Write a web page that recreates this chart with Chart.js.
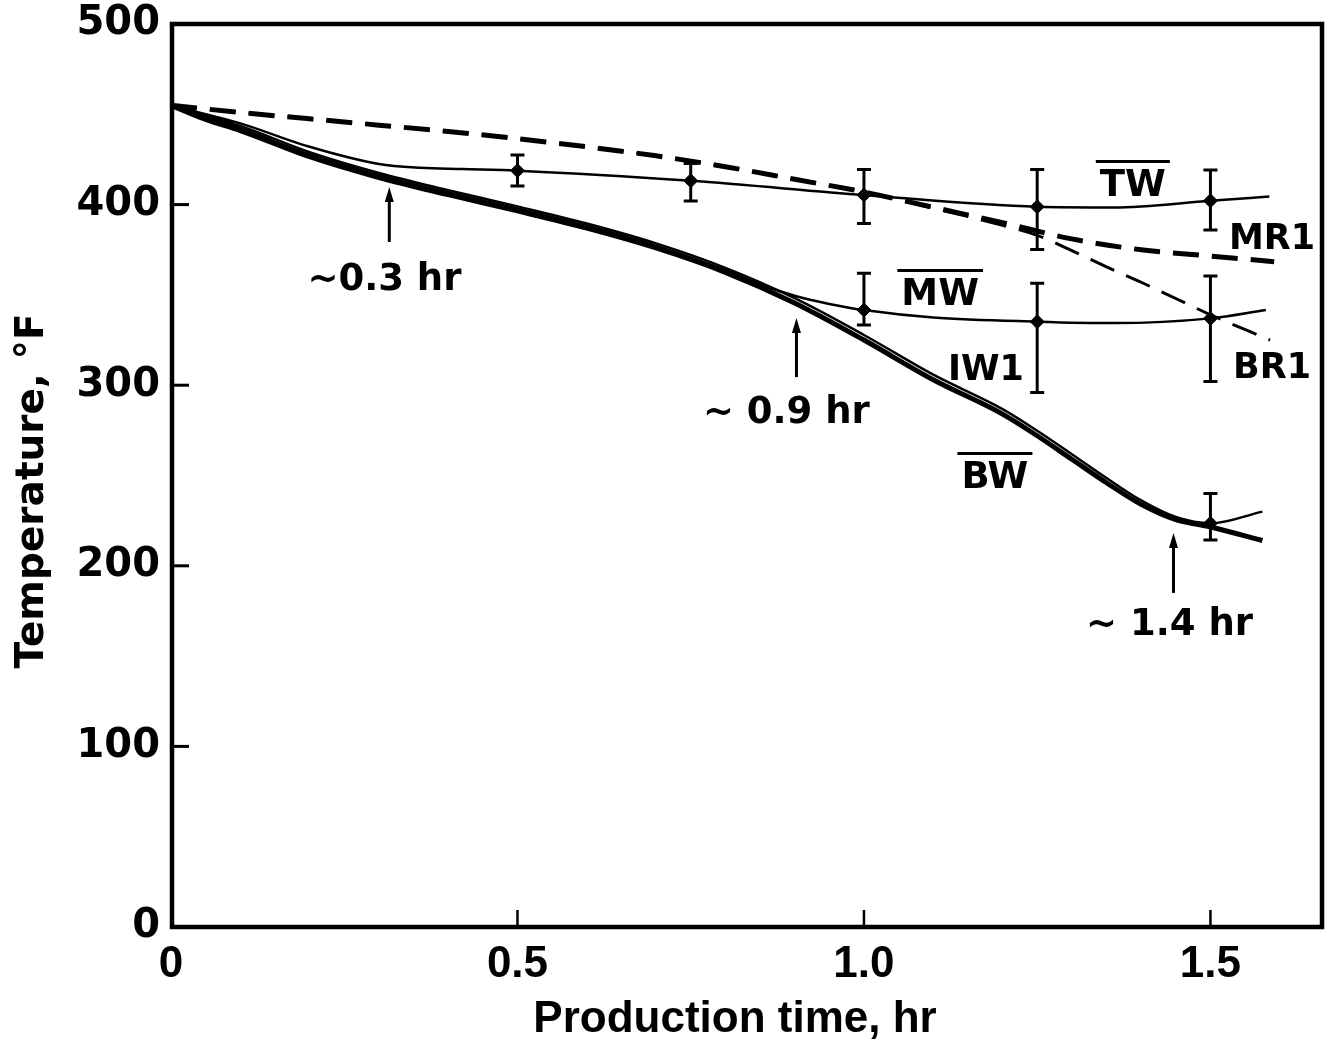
<!DOCTYPE html>
<html>
<head>
<meta charset="utf-8">
<script src="https://cdn.jsdelivr.net/npm/chart.js@4.4.1/dist/chart.umd.min.js"></script>
<style>
  html, body { margin: 0; padding: 0; background: #fff; }
  #wrap { width: 1330px; height: 1041px; }
</style>
</head>
<body>
<div id="wrap"><canvas id="c" width="1330" height="1041"></canvas></div>
<script>
// Wellhead temperature during production: time (hr) vs temperature (°F)

// Measured averages (solid lines)
const timeTW = [0, 0.05, 0.1, 0.2, 0.3, 0.36, 0.42, 0.5, 0.75, 1.0, 1.25, 1.36, 1.5, 1.585];
const tempTW = [455, 450, 445, 432, 422.5, 420.4, 419.7, 418.8, 413.2, 405.3, 398.8, 398.4, 402.1, 404.5];

const timeMW = [0, 0.05, 0.1, 0.2, 0.3, 0.4, 0.5, 0.6, 0.7, 0.8, 0.86, 0.9, 0.95, 1.0, 1.1, 1.25, 1.36, 1.5, 1.58];
const tempMW = [455, 448.5, 442.3, 427.8, 416.3, 406.8, 397.8, 388.3, 377.3, 363.8, 354.5, 349.5, 345, 341.6, 337.5, 335.2, 334.4, 337, 341.6];

const timeBW = [0, 0.05, 0.1, 0.2, 0.3, 0.4, 0.5, 0.6, 0.7, 0.8, 0.9, 1.0, 1.1, 1.2, 1.25, 1.3, 1.35, 1.4, 1.45, 1.5, 1.575];
const tempBW = [455, 447.2, 441, 426.5, 415, 405.5, 396.5, 387, 376, 362.5, 345.5, 325, 303, 284, 272, 259, 246, 234, 225.5, 221.5, 214];

// Simulated single-well curves
const timeIW1 = [0, 0.05, 0.1, 0.2, 0.3, 0.4, 0.5, 0.6, 0.7, 0.8, 0.9, 1.0, 1.1, 1.2, 1.25, 1.3, 1.35, 1.4, 1.45, 1.5, 1.575];
const tempIW1 = [455, 449.2, 443.5, 429, 417.5, 408, 399, 389.5, 378.5, 365, 348.2, 327.8, 305.8, 286.8, 274.8, 261.8, 248.6, 236.2, 227, 223.5, 230];

const timeMR1 = [0, 0.1, 0.2, 0.3, 0.4, 0.5, 0.6, 0.7, 0.8, 0.9, 1.0, 1.1, 1.2, 1.3, 1.4, 1.5, 1.592];
const tempMR1 = [455, 451, 447.5, 444, 440.5, 436.5, 432, 427, 421, 414, 407, 398.5, 390, 381, 375, 371.5, 368.4];

const timeBR1 = [0, 0.1, 0.2, 0.3, 0.4, 0.5, 0.6, 0.7, 0.8, 0.9, 1.0, 1.1, 1.2, 1.25, 1.3, 1.35, 1.4, 1.45, 1.5, 1.586];
const tempBR1 = [455, 451, 447.5, 444, 440.5, 436.5, 432, 427, 421, 414, 407, 398, 388.5, 383, 374.5, 365.5, 357, 348, 339, 325];

// Averages with spread (points + error bars)
const errTimeTW = [0.5, 0.75, 1.0, 1.25, 1.5];
const meanTW = [418.8, 413.2, 405.3, 398.8, 402.1];
const lowTW = [410.3, 402, 389.6, 375.2, 386];
const highTW = [427.5, 422.8, 419.5, 419.5, 419.1];

const errTimeMW = [1.0, 1.25, 1.5];
const meanMW = [341.6, 335.2, 337];
const lowMW = [333.3, 295.9, 302];
const highMW = [362, 356.4, 360.5];

const errTimeBW = [1.5];
const meanBW = [223.5];
const lowBW = [214.3];
const highBW = [240];

// Axis ticks
const xTicks = [0, 0.5, 1.0, 1.5];
const xTickLabels = ['0', '0.5', '1.0', '1.5'];
const yTicks = [0, 100, 200, 300, 400, 500];

const pts = (t, v) => t.map((x, i) => ({ x: x, y: v[i] }));

const lineDs = (label, t, v, width, dash) => ({
  type: 'line', label, data: pts(t, v),
  borderColor: '#000', borderWidth: width, borderDash: dash || [],
  pointRadius: 0, fill: false, cubicInterpolationMode: 'monotone',
  borderCapStyle: 'butt', borderJoinStyle: 'round'
});

const markerDs = (label, t, v) => ({
  type: 'scatter', label, data: pts(t, v),
  pointStyle: 'rectRot', pointRadius: 7, backgroundColor: '#000',
  borderColor: '#000', borderWidth: 1
});

const errorSeries = [
  { t: errTimeTW, lo: lowTW, hi: highTW },
  { t: errTimeMW, lo: lowMW, hi: highMW },
  { t: errTimeBW, lo: lowBW, hi: highBW }
];

// Text annotations placed in data units
const BOLD = '"DejaVu Sans", "Liberation Sans", sans-serif';
const notes = [
  { text: 'TW', t: 1.388, v: 412, size: 37, over: true },
  { text: 'MR1', t: 1.589, v: 382.6, size: 35 },
  { text: 'MW', t: 1.110, v: 351.6, size: 37, over: true },
  { text: 'IW1', t: 1.176, v: 310, size: 35 },
  { text: 'BR1', t: 1.589, v: 311.2, size: 35 },
  { text: 'BW', t: 1.189, v: 250.3, size: 37, over: true },
  { text: '~0.3 hr', t: 0.308, v: 360, size: 37 },
  { text: '~ 0.9 hr', t: 0.888, v: 286.3, size: 37 },
  { text: '~ 1.4 hr', t: 1.441, v: 168.9, size: 37 }
];
const arrows = [
  { t: 0.315, from: 379.3, to: 409.7 },
  { t: 0.9026, from: 304.5, to: 337.2 },
  { t: 1.4467, from: 185, to: 218.2 }
];

const errorBars = {
  id: 'errorBars',
  afterDatasetsDraw(chart) {
    const { ctx, scales: { x, y } } = chart;
    ctx.save();
    ctx.strokeStyle = '#000';
    ctx.lineWidth = 3;
    errorSeries.forEach(s => {
      s.t.forEach((tv, i) => {
        const px = x.getPixelForValue(tv);
        const y1 = y.getPixelForValue(s.lo[i]);
        const y2 = y.getPixelForValue(s.hi[i]);
        ctx.beginPath(); ctx.moveTo(px, y1); ctx.lineTo(px, y2); ctx.stroke();
        ctx.beginPath();
        ctx.moveTo(px - 7, y1); ctx.lineTo(px + 7, y1);
        ctx.moveTo(px - 7, y2); ctx.lineTo(px + 7, y2);
        ctx.stroke();
      });
    });
    ctx.restore();
  }
};

const annotate = {
  id: 'annotate',
  afterDraw(chart) {
    const { ctx, scales: { x, y }, chartArea: a } = chart;
    ctx.save();
    ctx.fillStyle = '#000';
    ctx.strokeStyle = '#000';

    // frame
    ctx.lineWidth = 4.5;
    ctx.strokeRect(a.left + 1, a.top, a.right - a.left - 1, a.bottom - a.top);

    // inward tick marks
    ctx.lineWidth = 3;
    yTicks.slice(1, -1).forEach(v => {
      const py = y.getPixelForValue(v);
      ctx.beginPath(); ctx.moveTo(a.left, py); ctx.lineTo(a.left + 18, py); ctx.stroke();
    });
    ctx.lineWidth = 2.5;
    xTicks.slice(1).forEach(v => {
      const px = x.getPixelForValue(v);
      ctx.beginPath(); ctx.moveTo(px, a.bottom); ctx.lineTo(px, a.bottom - 17); ctx.stroke();
    });

    // labels on the curves
    ctx.textAlign = 'center';
    ctx.textBaseline = 'alphabetic';
    notes.forEach(n => {
      ctx.font = 'bold ' + n.size + 'px ' + BOLD;
      const px = x.getPixelForValue(n.t);
      const py = y.getPixelForValue(n.v);
      const cap = n.size * 0.729;
      ctx.fillText(n.text, px, py + cap / 2);
      if (n.over) {
        const w = ctx.measureText(n.text).width;
        ctx.lineWidth = 3;
        ctx.beginPath();
        ctx.moveTo(px - w / 2 - 4, py - cap / 2 - 8);
        ctx.lineTo(px + w / 2 + 4, py - cap / 2 - 8);
        ctx.stroke();
      }
    });

    // arrows pointing to where the curves part
    arrows.forEach(ar => {
      const px = x.getPixelForValue(ar.t);
      const yb = y.getPixelForValue(ar.from);
      const yt = y.getPixelForValue(ar.to);
      ctx.lineWidth = 3;
      ctx.beginPath(); ctx.moveTo(px, yb); ctx.lineTo(px, yt + 12); ctx.stroke();
      ctx.beginPath();
      ctx.moveTo(px, yt); ctx.lineTo(px - 4.5, yt + 15); ctx.lineTo(px + 4.5, yt + 15);
      ctx.closePath(); ctx.fill();
    });

    // axis titles
    ctx.font = 'bold 44px "Liberation Sans", Arial, sans-serif';
    ctx.textAlign = 'center';
    ctx.fillText('Production time, hr', a.left + 564, a.bottom + 105);
    ctx.translate(a.left - 142, a.top + 467);
    ctx.rotate(-Math.PI / 2);
    ctx.font = 'bold 39px ' + BOLD;
    ctx.fillText('Temperature, \u00B0F', 0, 14);
    ctx.restore();
  }
};

new Chart(document.getElementById('c'), {
  data: {
    datasets: [
      lineDs('MR1', timeMR1, tempMR1, 5, [26, 13]),
      lineDs('BR1', timeBR1, tempBR1, 3, [26, 13]),
      lineDs('TW', timeTW, tempTW, 2.5),
      lineDs('MW', timeMW, tempMW, 2.5),
      lineDs('IW1', timeIW1, tempIW1, 2.5),
      lineDs('BW', timeBW, tempBW, 5),
      markerDs('TW avg', errTimeTW, meanTW),
      markerDs('MW avg', errTimeMW, meanMW),
      markerDs('BW avg', errTimeBW, meanBW)
    ]
  },
  options: {
    responsive: false,
    animation: false,
    devicePixelRatio: 1,
    layout: { padding: { top: 24, right: 3, left: 0, bottom: 0 } },
    plugins: { legend: { display: false }, tooltip: { enabled: false } },
    scales: {
      x: {
        type: 'linear', min: 0, max: 1.661,
        afterBuildTicks: s => { s.ticks = xTicks.map(v => ({ value: v })); },
        afterFit: s => { s.height = 114; },
        grid: { display: false }, border: { display: false },
        ticks: {
          callback: (v, i) => xTickLabels[i],
          color: '#000', padding: 3, maxRotation: 0, autoSkip: false,
          font: { family: '"Liberation Sans", Arial, sans-serif', weight: 'bold', size: 44 }
        }
      },
      y: {
        type: 'linear', min: 0, max: 500,
        afterBuildTicks: s => { s.ticks = yTicks.map(v => ({ value: v })); },
        afterFit: s => { s.width = 171; },
        grid: { display: false }, border: { display: false },
        ticks: {
          color: '#000', padding: 3,
          font: { family: BOLD, weight: 'bold', size: 40, lineHeight: 1 }
        }
      }
    }
  },
  plugins: [errorBars, annotate]
});
</script>
</body>
</html>
